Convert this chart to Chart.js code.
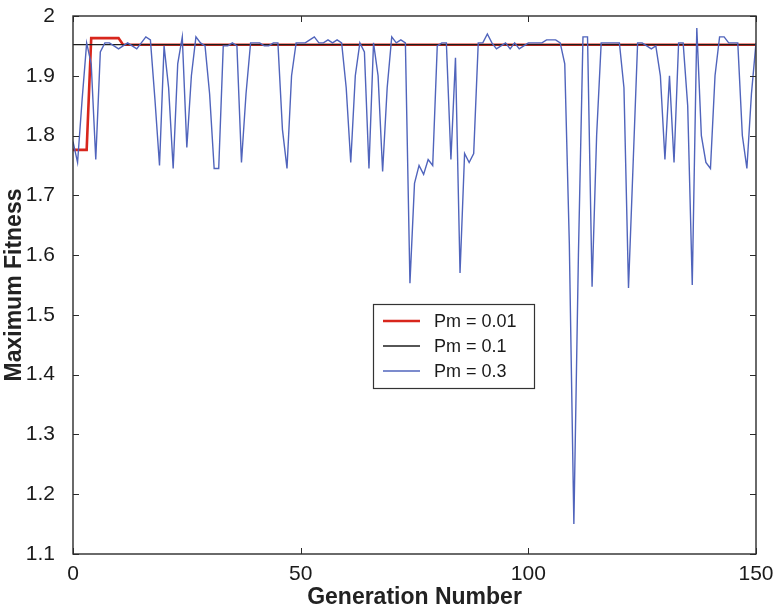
<!DOCTYPE html>
<html>
<head>
<meta charset="utf-8">
<title>Maximum Fitness</title>
<script src="https://cdn.jsdelivr.net/npm/chart.js@4.4.1/dist/chart.umd.min.js"></script>
<style>
  html, body { margin: 0; padding: 0; background: #fff; }
  #wrap { position: relative; width: 776px; height: 611px; }
</style>
</head>
<body>
<div id="wrap"><canvas id="fitnessChart"></canvas></div>
<script>
// ===== Data =====
const X_TICKS = [0, 50, 100, 150];
const Y_TICKS = [1.1, 1.2, 1.3, 1.4, 1.5, 1.6, 1.7, 1.8, 1.9, 2];

// Pm = 0.01 (red) - break points of the curve
const redGens   = [0, 3, 4, 10, 11, 150];
const redValues = [1.776, 1.776, 1.963, 1.963, 1.952, 1.952];

// Pm = 0.1 (black) - flat
const blackGens   = [0, 150];
const blackValues = [1.952, 1.952];

// Pm = 0.3 (blue) - one value per generation, 0..150
const blueValues = [
  1.79, 1.755, 1.86, 1.955, 1.92, 1.76, 1.94, 1.955, 1.955, 1.95,       // 0-9
  1.945, 1.95, 1.955, 1.95, 1.945, 1.955, 1.965, 1.96, 1.86, 1.75,      // 10-19
  1.95, 1.88, 1.745, 1.92, 1.965, 1.78, 1.90, 1.965, 1.955, 1.95,       // 20-29
  1.87, 1.745, 1.745, 1.95, 1.95, 1.955, 1.95, 1.755, 1.87, 1.955,      // 30-39
  1.955, 1.955, 1.95, 1.95, 1.955, 1.955, 1.81, 1.745, 1.90, 1.955,     // 40-49
  1.955, 1.955, 1.96, 1.965, 1.955, 1.955, 1.96, 1.955, 1.96, 1.955,    // 50-59
  1.88, 1.755, 1.90, 1.955, 1.94, 1.745, 1.955, 1.90, 1.74, 1.88,       // 60-69
  1.965, 1.955, 1.96, 1.955, 1.553, 1.72, 1.75, 1.735, 1.76, 1.75,      // 70-79
  1.95, 1.955, 1.955, 1.76, 1.93, 1.57, 1.77, 1.755, 1.77, 1.955,       // 80-89
  1.955, 1.97, 1.955, 1.945, 1.95, 1.955, 1.945, 1.955, 1.945, 1.95,    // 90-99
  1.955, 1.955, 1.955, 1.955, 1.96, 1.96, 1.96, 1.955, 1.92, 1.62,      // 100-109
  1.15, 1.60, 1.965, 1.965, 1.547, 1.80, 1.955, 1.955, 1.955, 1.955,    // 110-119
  1.955, 1.88, 1.545, 1.75, 1.955, 1.955, 1.95, 1.945, 1.95, 1.90,      // 120-129
  1.76, 1.90, 1.755, 1.955, 1.955, 1.85, 1.55, 1.98, 1.80, 1.755,       // 130-139
  1.745, 1.90, 1.965, 1.965, 1.955, 1.955, 1.955, 1.80, 1.745, 1.87,    // 140-149
  1.955                                                                 // 150
];
const blueGens = blueValues.map((_, i) => i);

const SERIES_LABELS = ["Pm = 0.01", "Pm = 0.1", "Pm = 0.3"];
const SERIES_COLORS = ["#d8261c", "#1e1e1e", "#5064bc"];

const toPoints = (xs, ys) => xs.map((g, i) => ({ x: g, y: ys[i] }));

// ===== Frame, inward ticks and legend box (MATLAB style) =====
const frameAndLegend = {
  id: "frameAndLegend",
  afterDatasetsDraw(chart) {
    const { ctx, chartArea: a, scales: { x, y } } = chart;
    ctx.save();

    // ticks pointing into the plot, on all four sides
    ctx.strokeStyle = "#2b2b2b";
    ctx.lineWidth = 1;
    ctx.beginPath();
    X_TICKS.forEach(v => {
      const px = Math.round(x.getPixelForValue(v)) + 0.5;
      ctx.moveTo(px, a.bottom); ctx.lineTo(px, a.bottom - 6);
      ctx.moveTo(px, a.top); ctx.lineTo(px, a.top + 6);
    });
    Y_TICKS.forEach(v => {
      const py = Math.round(y.getPixelForValue(v)) + 0.5;
      ctx.moveTo(a.left, py); ctx.lineTo(a.left + 6, py);
      ctx.moveTo(a.right, py); ctx.lineTo(a.right - 6, py);
    });
    ctx.stroke();

    // axes box
    ctx.lineWidth = 1.4;
    ctx.strokeRect(a.left, a.top, a.right - a.left, a.bottom - a.top);

    // legend
    const bx = 373, by = 304, bw = 161, bh = 84;
    ctx.fillStyle = "#fff";
    ctx.fillRect(bx, by, bw, bh);
    ctx.lineWidth = 1.2;
    ctx.strokeStyle = "#333";
    ctx.strokeRect(bx + 0.5, by + 0.5, bw, bh);

    ctx.font = "18px 'Liberation Sans', Arial, sans-serif";
    ctx.textBaseline = "middle";
    ctx.textAlign = "left";
    chart.data.datasets.forEach((ds, i) => {
      const ry = by + 17 + i * 25;
      ctx.strokeStyle = ds.borderColor;
      ctx.lineWidth = i === 0 ? 2.5 : 1.5;
      ctx.beginPath();
      ctx.moveTo(bx + 10, ry);
      ctx.lineTo(bx + 47, ry);
      ctx.stroke();
      ctx.fillStyle = "#1a1a1a";
      ctx.fillText(ds.label, bx + 61, ry + 1);
    });

    ctx.restore();
  }
};

// ===== Chart =====
const ctx = document.getElementById("fitnessChart").getContext("2d");
new Chart(ctx, {
  type: "line",
  data: {
    datasets: [
      { label: SERIES_LABELS[0], data: toPoints(redGens, redValues), borderColor: SERIES_COLORS[0], borderWidth: 2.6, order: 2 },
      { label: SERIES_LABELS[1], data: toPoints(blackGens, blackValues), borderColor: SERIES_COLORS[1], borderWidth: 1.2, order: 1 },
      { label: SERIES_LABELS[2], data: toPoints(blueGens, blueValues), borderColor: SERIES_COLORS[2], borderWidth: 1.4, order: 0 }
    ]
  },
  options: {
    responsive: true,
    maintainAspectRatio: false,
    animation: false,
    elements: { point: { radius: 0 }, line: { tension: 0, fill: false } },
    layout: { padding: { top: 16, right: 20, left: 0, bottom: 0 } },
    plugins: {
      legend: { display: false },
      tooltip: { enabled: false }
    },
    scales: {
      x: {
        type: "linear",
        min: 0,
        max: 150,
        grid: { display: false },
        border: { display: false },
        afterFit: s => { s.height = 57; s.paddingLeft = 0; s.paddingRight = 0; },
        afterBuildTicks: s => { s.ticks = X_TICKS.map(v => ({ value: v })); },
        ticks: {
          padding: 0,
          color: "#1a1a1a",
          font: { family: "'Liberation Sans', Arial, sans-serif", size: 21 },
          callback: v => String(v)
        },
        title: {
          display: true,
          text: "Generation Number",
          color: "#222",
          font: { family: "'Liberation Sans', Arial, sans-serif", size: 23, weight: "bold" },
          padding: { top: 0, bottom: 0 }
        }
      },
      y: {
        min: 1.1,
        max: 2,
        grid: { display: false },
        border: { display: false },
        afterFit: s => { s.width = 73; s.paddingTop = 0; s.paddingBottom = 0; },
        afterBuildTicks: s => { s.ticks = Y_TICKS.map(v => ({ value: v })); },
        ticks: {
          padding: 10,
          color: "#1a1a1a",
          font: { family: "'Liberation Sans', Arial, sans-serif", size: 21 },
          callback: v => String(Math.round(v * 10) / 10)
        },
        title: {
          display: true,
          text: "Maximum Fitness",
          color: "#222",
          font: { family: "'Liberation Sans', Arial, sans-serif", size: 23, weight: "bold" },
          padding: { top: 1, bottom: 0 }
        }
      }
    }
  },
  plugins: [frameAndLegend]
});
</script>
</body>
</html>
